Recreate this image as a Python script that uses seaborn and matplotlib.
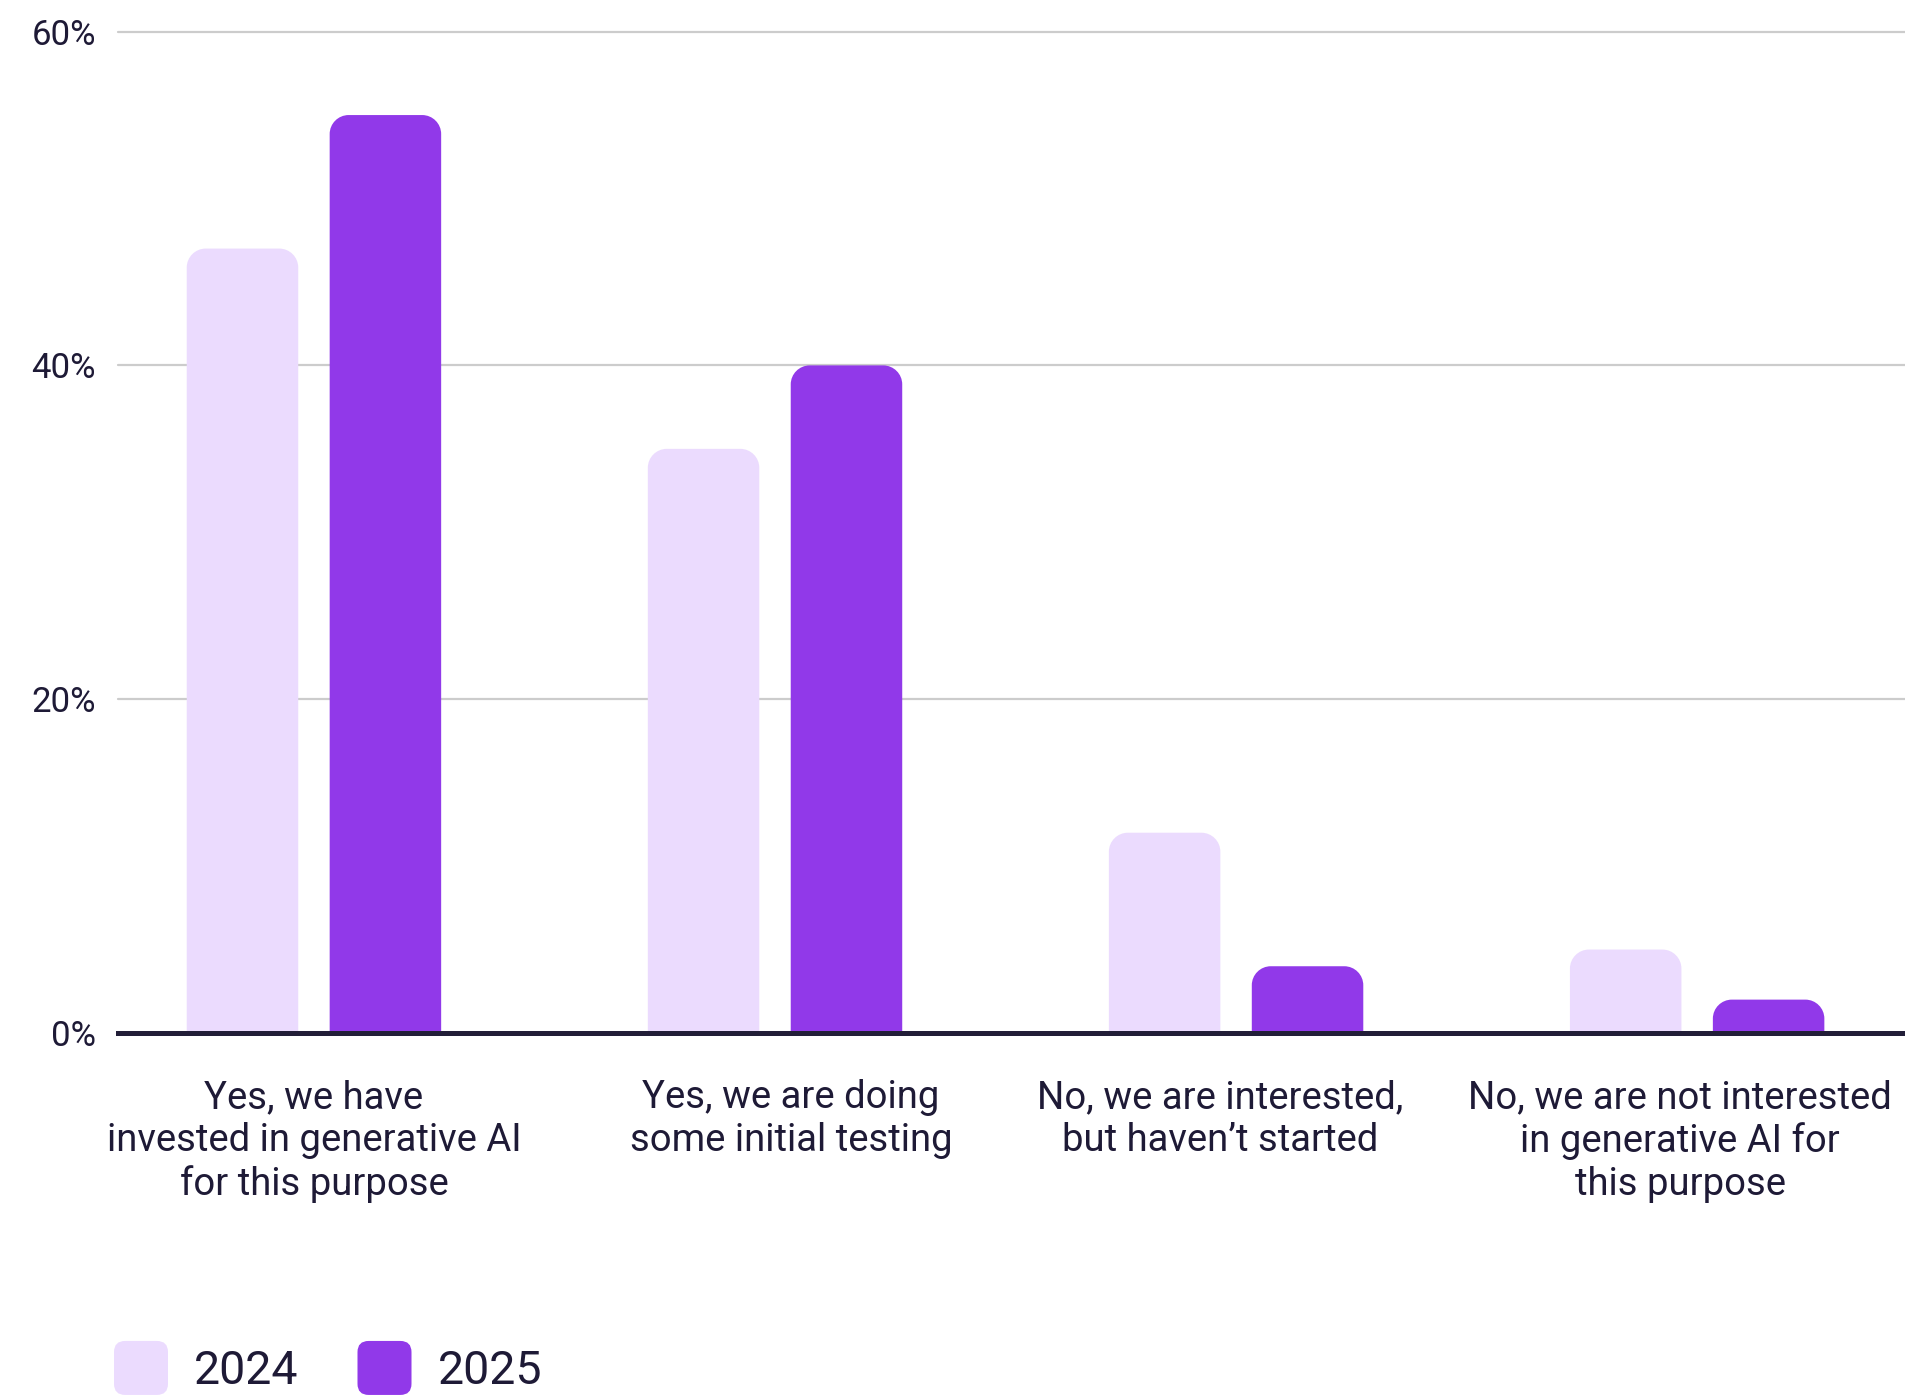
import numpy as np
import pandas as pd
import seaborn as sns
import matplotlib
matplotlib.use("Agg")
import matplotlib.pyplot as plt
import matplotlib.transforms as mtransforms
from matplotlib.path import Path
from matplotlib.patches import PathPatch, FancyBboxPatch, Patch
from matplotlib.legend_handler import HandlerPatch

# ---- data -------------------------------------------------------------
responses = [
    "Yes, we have\ninvested in generative AI\nfor this purpose",
    "Yes, we are doing\nsome initial testing",
    "No, we are interested,\nbut haven\u2019t started",
    "No, we are not interested\nin generative AI for\nthis purpose",
]
years = ["2024", "2025"]
share_2024 = [47, 35, 12, 5]
share_2025 = [55, 40, 4, 2]
y_ticks = [0, 20, 40, 60]
y_tick_labels = ["0%", "20%", "40%", "60%"]

colors = {"2024": "#EBDBFE", "2025": "#9139E9"}
text_color = "#1E1A36"

df = pd.DataFrame({
    "response": responses * 2,
    "year": ["2024"] * len(responses) + ["2025"] * len(responses),
    "share": share_2024 + share_2025,
})

# ---- figure -----------------------------------------------------------
sns.set_theme(style="white")
plt.rcParams["font.family"] = ["Roboto", "DejaVu Sans"]

W, H = 1906, 1395
fig = plt.figure(figsize=(W / 100, H / 100), dpi=100)
ax_left, ax_right = 118, 1906
y0_px, px_per_pct = 1033, 16.69
ylim_top = 61
ax_top = y0_px - ylim_top * px_per_pct
ax = fig.add_axes([ax_left / W, 1 - y0_px / H,
                   (ax_right - ax_left) / W, (y0_px - ax_top) / H])

sns.barplot(data=df, x="response", y="share", hue="year", order=responses,
            hue_order=years, palette=colors, saturation=1, width=0.62,
            gap=0.22, linewidth=0, legend=False, ax=ax)

xlim = (-0.425, 3.453)
ax.set_xlim(*xlim)
ax.set_ylim(0, ylim_top)

# ---- rounded tops on the bars ----------------------------------------
px_per_x = (ax_right - ax_left) / (xlim[1] - xlim[0])
radius_px = 19
rx = radius_px / px_per_x
k = 0.5523
bars = [p for p in ax.patches]
for p in bars:
    x0, b = p.get_x(), p.get_y()
    w, h = p.get_width(), p.get_height()
    if h <= 0:
        continue
    x1, y1 = x0 + w, b + h
    ry = min(radius_px / px_per_pct, h)
    verts = [
        (x0, b), (x0, y1 - ry),
        (x0, y1 - ry + k * ry), (x0 + rx - k * rx, y1), (x0 + rx, y1),
        (x1 - rx, y1),
        (x1 - rx + k * rx, y1), (x1, y1 - ry + k * ry), (x1, y1 - ry),
        (x1, b), (x0, b),
    ]
    codes = [Path.MOVETO, Path.LINETO,
             Path.CURVE4, Path.CURVE4, Path.CURVE4,
             Path.LINETO,
             Path.CURVE4, Path.CURVE4, Path.CURVE4,
             Path.LINETO, Path.CLOSEPOLY]
    ax.add_patch(PathPatch(Path(verts, codes), facecolor=p.get_facecolor(),
                           edgecolor="none", zorder=2))
    p.remove()

# ---- axes styling -----------------------------------------------------
ax.set_xlabel("")
ax.set_ylabel("")
ax.set_yticks(y_ticks)
ax.set_yticklabels(y_tick_labels)
ax.set_axisbelow(True)
ax.yaxis.grid(True, color="#CCCCCC", linewidth=1.6)
for gl in ax.yaxis.get_gridlines():
    gl.set_clip_on(False)
ax.xaxis.grid(False)
for side in ["left", "right", "top"]:
    ax.spines[side].set_visible(False)
ax.spines["bottom"].set_color("#221E38")
ax.spines["bottom"].set_linewidth(3.6)
ax.spines["bottom"].set_zorder(5)
ax.tick_params(axis="y", length=0, pad=16, labelsize=25, labelcolor=text_color)
ax.tick_params(axis="x", length=0, pad=33, labelsize=27.5, labelcolor=text_color)

# small horizontal nudges (in pixels) for the wrapped category labels
label_shift_px = [0, 16, -16, -17]
for lbl, dx in zip(ax.get_xticklabels(), label_shift_px):
    lbl.set_multialignment("center")
    lbl.set_linespacing(1.2)
    lbl.set_transform(lbl.get_transform() +
                      mtransforms.ScaledTranslation(dx / 100, 0, fig.dpi_scale_trans))

# ---- legend with rounded swatches ------------------------------------
SWATCH_PX = 54


class RoundedSwatch(HandlerPatch):
    def create_artists(self, legend, orig_handle, xdescent, ydescent,
                       width, height, fontsize, trans):
        size = width
        y = -ydescent + height / 2 - size / 2
        patch = FancyBboxPatch((-xdescent, y), size, size,
                               boxstyle="round,pad=0,rounding_size=8",
                               facecolor=orig_handle.get_facecolor(),
                               edgecolor="none", transform=trans)
        return [patch]


legend_fs = 33.5
fs_px = legend_fs * 100 / 72
handles = [Patch(facecolor=colors[y], label=y) for y in years]
fig.legend(handles=handles, loc="center left",
           bbox_to_anchor=(114 / W, 1 - 1370 / H), ncol=2, frameon=False,
           fontsize=legend_fs, labelcolor=text_color,
           handlelength=SWATCH_PX / fs_px, handleheight=1.0,
           handletextpad=26 / fs_px, columnspacing=59 / fs_px,
           borderpad=0, borderaxespad=0,
           handler_map={Patch: RoundedSwatch()})

fig.savefig("out.png", dpi=100)
